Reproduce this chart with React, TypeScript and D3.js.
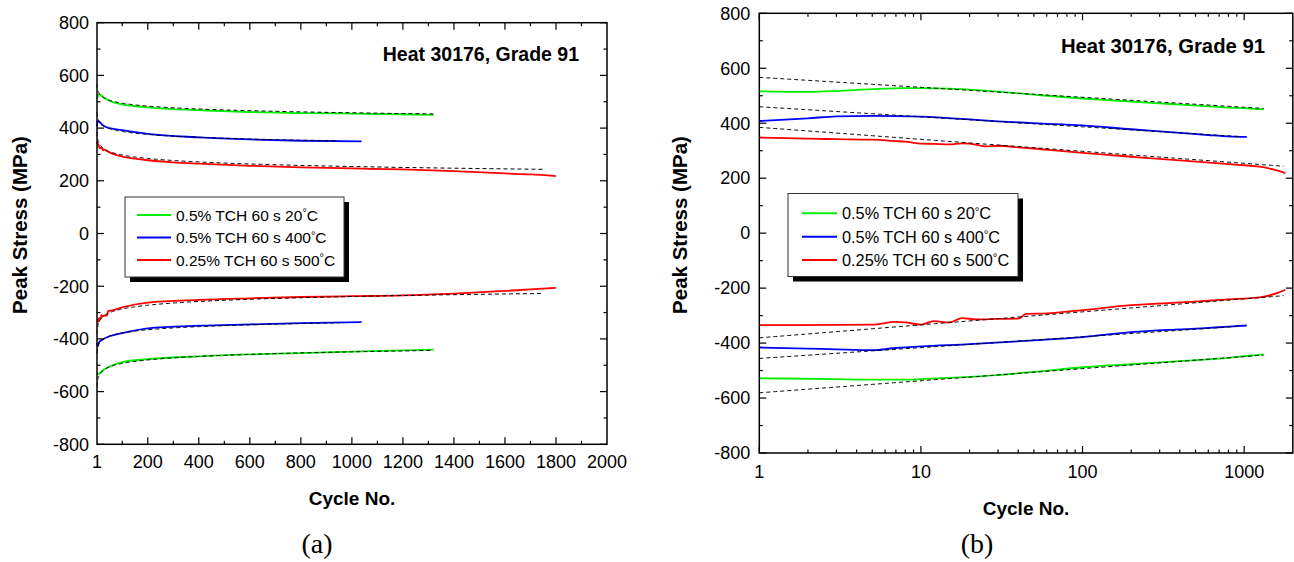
import React from "react";
import * as d3 from "d3";

// ---------- data (cycle, peak stress MPa) ----------
const seriesLabels = ["0.5% TCH 60 s 20", "0.5% TCH 60 s 400", "0.25% TCH 60 s 500"];
const seriesColors = ["#00ee00", "#0000ff", "#ff0000"];

const green20Tension: [number, number][] = [
  [1, 516], [2, 514], [3, 517], [5, 524], [8, 528], [10, 528], [15, 526], [20, 522], [30, 515],
  [50, 504], [100, 490], [200, 479], [300, 472], [400, 468], [600, 461], [800, 457], [1000, 455], [1320, 450],
];
const blue400Tension: [number, number][] = [
  [1, 408], [2, 418], [3, 425], [5, 427], [10, 424], [20, 414], [30, 407], [50, 400], [100, 392],
  [200, 378], [400, 365], [600, 357], [800, 352], [1038, 350],
];
const red500Tension: [number, number][] = [
  [1, 348], [2, 344], [3, 342], [5, 340], [7, 335], [8, 333], [10, 326], [12, 325], [15, 323], [18, 327],
  [20, 326], [25, 316], [30, 318], [40, 312], [50, 308], [70, 300], [100, 292], [150, 284], [200, 278],
  [300, 270], [400, 265], [600, 257], [800, 251], [1000, 247], [1200, 243], [1400, 237], [1600, 228],
  [1700, 224], [1800, 218],
];
const red500Compression: [number, number][] = [
  [1, -335], [3, -334], [5, -333], [7, -323], [8, -325], [10, -333], [12, -320], [15, -325], [18, -309],
  [22, -314], [30, -312], [40, -311], [45, -294], [60, -292], [100, -280], [200, -262], [400, -252],
  [600, -246], [800, -241], [1000, -238], [1200, -235], [1400, -228], [1600, -218], [1800, -206],
];
const blue400Compression: [number, number][] = [
  [1, -416], [2, -420], [3, -423], [5, -426], [7, -418], [10, -412], [20, -404], [50, -390], [100, -378],
  [200, -360], [400, -350], [600, -345], [800, -340], [1038, -336],
];
const green20Compression: [number, number][] = [
  [1, -528], [3, -531], [5, -533], [8, -533], [10, -531], [20, -523], [50, -505], [100, -488], [200, -477],
  [400, -466], [600, -459], [800, -454], [1000, -448], [1320, -441],
];

// logarithmic fits (stress = a + b*log10(N)), drawn dashed
const fitIntercepts = [567, 460, 385, -381, -456, -581];
const fitSlopes = [-36.3, -36.5, -43.6, 47.3, 39.4, 44];
const fitEnds = [1320, 950, 1750, 1750, 950, 1320];

const yTicksMajor = [-800, -600, -400, -200, 0, 200, 400, 600, 800];
const linXTicks = [1, 200, 400, 600, 800, 1000, 1200, 1400, 1600, 1800, 2000];
const logXTicks = [1, 10, 100, 1000];

const titleText = "Heat 30176, Grade 91";

const FONT = "Arial, 'Liberation Sans', Helvetica, sans-serif";

const curves = [
  { data: green20Tension, color: seriesColors[0] },
  { data: blue400Tension, color: seriesColors[1] },
  { data: red500Tension, color: seriesColors[2] },
  { data: red500Compression, color: seriesColors[2] },
  { data: blue400Compression, color: seriesColors[1] },
  { data: green20Compression, color: seriesColors[0] },
];

type Cfg = {
  left: number; top: number; right: number; bottom: number; log: boolean;
  legend: { x: number; y: number; w: number; h: number; rows: number[]; l0: number; l1: number; tx: number; fs: number };
  title: { x: number; y: number; fs: number };
  yTitleX: number; yTitleY: number; xTitleY: number; tickLabelDy: number; yLabelGap: number;
  caption: string; captionX: number;
};

function Panel({ c }: { c: Cfg }) {
  const x: any = c.log
    ? d3.scaleLog().domain([1, 2000]).range([c.left, c.right])
    : d3.scaleLinear().domain([1, 2000]).range([c.left, c.right]);
  const y = d3.scaleLinear().domain([-800, 800]).range([c.bottom, c.top]);

  const line = d3.line<[number, number]>().x((d) => x(d[0])).y((d) => y(d[1])).curve(d3.curveMonotoneX);

  const fitPaths = fitIntercepts.map((a, i) => {
    const end = fitEnds[i];
    const pts: [number, number][] = d3.range(0, Math.log10(end), 0.01).map((t) => [Math.pow(10, t), a + fitSlopes[i] * t]);
    pts.push([end, a + fitSlopes[i] * Math.log10(end)]);
    return d3.line<[number, number]>().x((d) => x(d[0])).y((d) => y(d[1]))(pts) as string;
  });

  const xMajor: number[] = c.log ? logXTicks : linXTicks.slice(1, -1);
  let xMinor: number[] = [];
  if (c.log) {
    [1, 10, 100, 1000].forEach((dec) => {
      for (let k = 2; k <= 9; k++) if (dec * k < 2000) xMinor.push(dec * k);
    });
  } else {
    xMinor = d3.range(100, 2000, 200);
  }
  const yMinor = d3.range(-700, 800, 200);
  const maj = 7, min = 3.5;

  const tickLines: JSX.Element[] = [];
  xMajor.forEach((v, i) => {
    const px = x(v);
    tickLines.push(<line key={"xb" + i} x1={px} x2={px} y1={c.bottom} y2={c.bottom - maj} />);
    tickLines.push(<line key={"xt" + i} x1={px} x2={px} y1={c.top} y2={c.top + maj} />);
  });
  xMinor.forEach((v, i) => {
    const px = x(v);
    tickLines.push(<line key={"xbm" + i} x1={px} x2={px} y1={c.bottom} y2={c.bottom - min} />);
    tickLines.push(<line key={"xtm" + i} x1={px} x2={px} y1={c.top} y2={c.top + min} />);
  });
  yTicksMajor.forEach((v, i) => {
    const py = y(v);
    tickLines.push(<line key={"yl" + i} x1={c.left} x2={c.left + maj} y1={py} y2={py} />);
    tickLines.push(<line key={"yr" + i} x1={c.right} x2={c.right - maj} y1={py} y2={py} />);
  });
  yMinor.forEach((v, i) => {
    const py = y(v);
    tickLines.push(<line key={"ylm" + i} x1={c.left} x2={c.left + min} y1={py} y2={py} />);
    tickLines.push(<line key={"yrm" + i} x1={c.right} x2={c.right - min} y1={py} y2={py} />);
  });

  const xLabels = c.log ? logXTicks : linXTicks;
  const L = c.legend;

  return (
    <g fontFamily={FONT}>
      {/* curves */}
      {curves.map((cv, i) => (
        <path key={"c" + i} d={line(cv.data) as string} fill="none" stroke={cv.color} strokeWidth={1.8} />
      ))}
      {fitPaths.map((p, i) => (
        <path key={"f" + i} d={p} fill="none" stroke="#000" strokeWidth={1} strokeDasharray="4,3" />
      ))}
      {/* frame + ticks */}
      <rect x={c.left} y={c.top} width={c.right - c.left} height={c.bottom - c.top} fill="none" stroke="#000" strokeWidth={1.5} />
      <g stroke="#000" strokeWidth={1.2}>{tickLines}</g>
      {/* tick labels */}
      {yTicksMajor.map((v) => (
        <text key={"yt" + v} x={c.left - c.yLabelGap} y={y(v)} dy="0.35em" textAnchor="end" fontSize={18}>
          {v}
        </text>
      ))}
      {xLabels.map((v) => (
        <text key={"xl" + v} x={x(v)} y={c.bottom + c.tickLabelDy} textAnchor="middle" fontSize={18}>
          {v}
        </text>
      ))}
      {/* axis titles */}
      <text x={(c.left + c.right) / 2} y={c.xTitleY} textAnchor="middle" fontSize={19} fontWeight="bold">
        Cycle No.
      </text>
      <text
        transform={`translate(${c.yTitleX},${c.yTitleY}) rotate(-90)`}
        textAnchor="middle"
        dy="0.35em"
        fontSize={20.5}
        fontWeight="bold"
      >
        Peak Stress (MPa)
      </text>
      {/* title */}
      <text x={c.title.x} y={c.title.y} fontSize={c.title.fs} fontWeight="bold" textAnchor="end">
        {titleText}
      </text>
      {/* legend */}
      <rect x={L.x + 5} y={L.y + 5} width={L.w} height={L.h} fill="#000" />
      <rect x={L.x} y={L.y} width={L.w} height={L.h} fill="#fff" stroke="#333" strokeWidth={1} />
      {seriesLabels.map((lab, i) => (
        <g key={"lg" + i}>
          <line x1={L.l0} x2={L.l1} y1={L.rows[i]} y2={L.rows[i]} stroke={seriesColors[i]} strokeWidth={2} />
          <text x={L.tx} y={L.rows[i]} dy="0.36em" fontSize={L.fs}>
            {lab}
            <tspan fontSize={L.fs * 0.7} dy={-L.fs * 0.28}>°</tspan>
            <tspan dy={L.fs * 0.28}>C</tspan>
          </text>
        </g>
      ))}
      {/* caption */}
      <text x={c.captionX} y={553} textAnchor="middle" fontSize={28} fontFamily="'Times New Roman', 'Liberation Serif', serif">
        {c.caption}
      </text>
    </g>
  );
}

const leftCfg: Cfg = {
  left: 97, top: 22.7, right: 607, bottom: 444.3, log: false,
  legend: { x: 125, y: 197, w: 219, h: 80, rows: [215, 237.5, 260], l0: 137, l1: 171, tx: 176, fs: 15.5 },
  title: { x: 579, y: 61, fs: 19.5 },
  yTitleX: 20, yTitleY: 225, xTitleY: 505, tickLabelDy: 24, yLabelGap: 8,
  caption: "(a)", captionX: 317,
};

const rightCfg: Cfg = {
  left: 759.3, top: 13.3, right: 1292.8, bottom: 453, log: true,
  legend: { x: 788, y: 193.5, w: 230, h: 83, rows: [213.3, 236.7, 260], l0: 802, l1: 837, tx: 842, fs: 16.3 },
  title: { x: 1265, y: 53, fs: 20.3 },
  yTitleX: 680, yTitleY: 225, xTitleY: 515, tickLabelDy: 25, yLabelGap: 9,
  caption: "(b)", captionX: 977,
};

export default function App() {
  return (
    <svg
      width={1294}
      height={562}
      viewBox="0 0 1294 562"
      style={{ position: "absolute", left: 0, top: 0, background: "#fff" }}
    >
      <rect width={1294} height={562} fill="#fff" />
      <Panel c={leftCfg} />
      <Panel c={rightCfg} />
    </svg>
  );
}
